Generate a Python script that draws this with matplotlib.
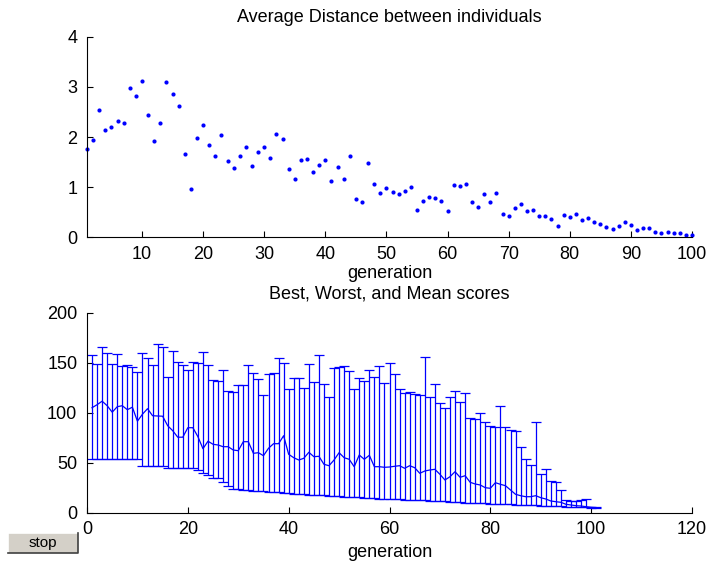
import numpy as np
import matplotlib
matplotlib.use("Agg")
import matplotlib.pyplot as plt
from matplotlib.patches import Rectangle

plt.rcParams['font.family'] = ['Liberation Sans', 'DejaVu Sans']

# average distance between individuals, generations 1..100
avg_dist = [1.77, 1.95, 2.54, 2.14, 2.20, 2.31, 2.28, 2.98, 2.82, 3.11,
            2.44, 1.93, 2.27, 3.09, 2.85, 2.61, 1.66, 0.96, 1.99, 2.23,
            1.85, 1.63, 2.04, 1.53, 1.39, 1.63, 1.81, 1.42, 1.71, 1.81,
            1.59, 2.05, 1.97, 1.37, 1.16, 1.54, 1.57, 1.30, 1.44, 1.54,
            1.12, 1.40, 1.16, 1.62, 0.77, 0.71, 1.49, 1.07, 0.88, 0.98,
            0.90, 0.86, 0.92, 1.01, 0.54, 0.72, 0.81, 0.79, 0.72, 0.53,
            1.04, 1.02, 1.07, 0.70, 0.60, 0.86, 0.70, 0.88, 0.46, 0.43,
            0.59, 0.67, 0.53, 0.54, 0.43, 0.43, 0.37, 0.23, 0.44, 0.40,
            0.47, 0.35, 0.38, 0.31, 0.26, 0.21, 0.16, 0.23, 0.31, 0.24,
            0.15, 0.18, 0.18, 0.11, 0.09, 0.11, 0.09, 0.08, 0.05, 0.05]
gen_top = np.arange(1, len(avg_dist) + 1)

# best / worst / mean scores, generations 1..101
worst = [157.7, 148.7, 165.4, 160, 148.7, 159, 147, 148, 145.4, 141,
         160, 154.7, 148, 168.7, 166, 135.4, 162, 150.7, 147.4, 142.4,
         151, 149.4, 160.4, 147.7, 132.7, 132, 142.4, 121.7, 121, 127.4,
         127.4, 147.7, 139.7, 133.7, 117.7, 139, 139.4, 154.4, 149.7, 124,
         134.4, 135, 125, 148.4, 131, 158, 129, 115.4, 144.4, 146,
         146.7, 142, 123.4, 135, 132, 143, 135.4, 147, 129.4, 150,
         138.7, 124, 120, 121, 119, 118, 156, 116, 128.4, 109.4,
         104.4, 116, 121.7, 111, 119.4, 94.4, 93.4, 99.7, 90.7, 86.7,
         85.4, 106.4, 86, 82.7, 81.7, 66, 54, 48, 90.7, 38.4,
         43.4, 31.7, 30.4, 22.4, 12.7, 12, 12, 13, 13.7, 5.5, 5.3]
mean = [105, 108, 111.5, 107, 100.5, 106, 107, 103, 105.5, 91.5,
        98.5, 104, 97, 96.7, 96.5, 87, 82, 75.5, 75.5, 85,
        85, 76, 64, 71.5, 68.4, 67.7, 66, 66, 62.7, 62,
        71, 71, 59.4, 60, 57, 64.4, 69, 69, 77, 58.4,
        55, 52.7, 54.4, 60.4, 56, 56.4, 48.4, 47, 52.7, 60,
        55, 53.4, 46, 57.7, 53.4, 57.4, 46, 46, 45.4, 45.7,
        46.4, 47, 44.4, 47, 45, 39.4, 41.7, 42.7, 43.4, 38.4,
        32.7, 36, 41, 35.4, 37, 30.4, 28.7, 27.7, 25, 24.4,
        30, 28.4, 27, 22.7, 18.4, 17, 16, 16, 17, 15,
        13.7, 11.7, 11, 10.4, 8.4, 7.7, 7, 6.7, 6, 5.4, 5.1]
best = [54, 54, 54, 54, 54, 54, 54, 54, 54, 54,
        47, 47, 47, 47, 47, 44.5, 44.5, 44.5, 44.5, 44.5,
        44.5, 42.5, 40, 37.5, 35, 34.5, 31, 27, 23.5, 23.3,
        23, 22.5, 22, 21.6, 21.3, 21, 20.6, 20.3, 20, 19.6,
        19.2, 18.8, 18.5, 18.2, 17.9, 17.6, 17.3, 17.0, 16.7, 16.4,
        16.1, 15.8, 15.5, 15.3, 15.0, 14.7, 14.5, 14.2, 14.0, 13.8,
        13.6, 13.4, 13.2, 13.0, 12.8, 12.6, 12.4, 12.2, 12.0, 11.6,
        11.3, 11.0, 10.7, 10.5, 10.2, 10.0, 9.8, 9.6, 9.4, 9.2,
        9.0, 8.8, 8.6, 8.4, 8.2, 8.0, 7.8, 7.6, 7.4, 7.2,
        7.0, 6.8, 6.6, 6.4, 6.2, 6.0, 5.8, 5.6, 5.4, 5.2, 5.0]
gen_bot = np.arange(1, len(mean) + 1)

fig = plt.figure(figsize=(7.08, 5.61), dpi=100)
fs = 13


def matlab_axes(ax):
    for s in ('top', 'right'):
        ax.spines[s].set_visible(False)
    for s in ('left', 'bottom'):
        ax.spines[s].set_linewidth(0.8)
    ax.tick_params(direction='in', length=4, width=0.8, labelsize=fs)
    ax.tick_params(axis='x', pad=6)
    ax.tick_params(axis='y', pad=7)


# top: average distance
ax1 = fig.add_axes([87 / 708, 1 - 237.3 / 561, 605 / 708, 200.6 / 561])
ax1.plot(gen_top, avg_dist, 'o', color='b', markersize=3, markeredgewidth=0,
         clip_on=False)
ax1.set_xlim(1, 100)
ax1.set_ylim(0, 4)
ax1.set_xticks(np.arange(10, 101, 10))
ax1.set_yticks([0, 1, 2, 3, 4])
ax1.set_title('Average Distance between individuals', fontsize=fs, pad=10.5)
ax1.set_xlabel('generation', fontsize=fs, labelpad=2)
matlab_axes(ax1)

# bottom: best, worst and mean
ax2 = fig.add_axes([87 / 708, 1 - 512.7 / 561, 605 / 708, 200 / 561])
mean_a = np.array(mean)
yerr = [mean_a - np.array(best), np.array(worst) - mean_a]
ax2.errorbar(gen_bot, mean_a, yerr=yerr, color='b', ecolor='b', lw=0.9,
             elinewidth=0.9, capsize=3.6, capthick=0.9)
ax2.set_xlim(0, 120)
ax2.set_ylim(0, 200)
ax2.set_xticks(np.arange(0, 121, 20))
ax2.set_yticks(np.arange(0, 201, 50))
ax2.set_title('Best, Worst, and Mean scores', fontsize=fs, pad=10.5)
ax2.set_xlabel('generation', fontsize=fs, labelpad=4)
matlab_axes(ax2)

# stop button
bx, by, bw, bh = 8 / 708, 1 - 553 / 561, 70 / 708, 20 / 561
fig.patches.append(Rectangle((bx, by), bw, bh, transform=fig.transFigure,
                             facecolor='#d4d0c8', edgecolor='none'))
fig.add_artist(plt.Line2D([bx, bx, bx + bw], [by, by + bh, by + bh],
                          transform=fig.transFigure, color='white', lw=1.2))
fig.add_artist(plt.Line2D([bx, bx + bw, bx + bw], [by, by, by + bh],
                          transform=fig.transFigure, color='#404040', lw=1.2))
fig.text(bx + bw / 2, by + bh / 2, 'stop', ha='center', va='center',
         fontsize=11, color='black')

fig.savefig('out.png', dpi=100)
